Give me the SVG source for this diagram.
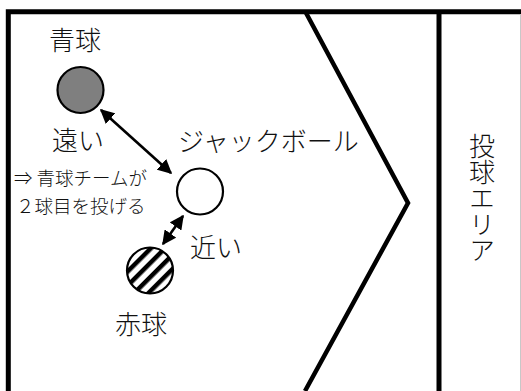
<svg xmlns="http://www.w3.org/2000/svg" width="521" height="391" viewBox="0 0 521 391">
<style>
.frame{fill:none;stroke:#000;stroke-width:5}
.ball{stroke:#000;stroke-width:2.2}
.conn{stroke:#000;stroke-width:2.6;fill:none}
.lbl{font-family:"Noto Sans CJK JP","Noto Sans",sans-serif;font-size:26px;font-weight:300;fill:#111}
.sm{font-family:"Noto Sans CJK JP","Noto Sans",sans-serif;font-size:18.5px;font-weight:300;fill:#111}
.vert{writing-mode:vertical-rl;text-orientation:upright}
</style>
<defs>
<marker id="ah" viewBox="0 0 10 10" refX="9" refY="5" markerWidth="5.5" markerHeight="5.5" orient="auto-start-reverse" markerUnits="strokeWidth">
<path d="M0,0 L10,5 L0,10 z" fill="#000"/>
</marker>
<pattern id="hatch" width="10" height="10" patternUnits="userSpaceOnUse" patternTransform="rotate(45)">
<rect width="10" height="10" fill="#fff"/>
<rect x="0" y="0" width="4.5" height="10" fill="#000"/>
</pattern>
</defs>
<rect width="521" height="391" fill="#fff"/>
<g id="field">
<path class="frame" d="M8.3,391 V11.7 H521"/>
<line x1="520.5" y1="14" x2="520.5" y2="391" stroke="#c8c8c8" stroke-width="1"/>
<line x1="439" y1="11" x2="439" y2="391" stroke="#000" stroke-width="5"/>
<polyline points="305,11 408,203 305,391" fill="none" stroke="#000" stroke-width="4.5"/>
</g>
<g id="connectors">
<line class="conn" x1="101" y1="110" x2="171" y2="173" marker-start="url(#ah)" marker-end="url(#ah)"/>
<line class="conn" x1="183" y1="216" x2="163" y2="244" marker-start="url(#ah)" marker-end="url(#ah)"/>
</g>
<g id="blue-ball">
<circle class="ball" cx="80.5" cy="90" r="23" fill="#7f7f7f"/>
<text class="lbl" x="49" y="50">青球</text>
</g>
<g id="jack-ball">
<circle class="ball" cx="200" cy="191.5" r="23" fill="#fff"/>
<text class="lbl" x="178" y="151">ジャックボール</text>
</g>
<g id="red-ball">
<circle class="ball" cx="150" cy="270.5" r="23" fill="url(#hatch)"/>
<text class="lbl" x="115" y="334">赤球</text>
</g>
<g id="far-label">
<text class="lbl" x="52" y="150">遠い</text>
<text class="sm" x="14" y="185">⇒ 青球チームが</text>
<text class="sm" x="16" y="213">２球目を投げる</text>
</g>
<g id="near-label">
<text class="lbl" x="190" y="257">近い</text>
</g>
<g id="throw-area">
<text class="lbl vert" x="482" y="133">投球エリア</text>
</g>
</svg>
